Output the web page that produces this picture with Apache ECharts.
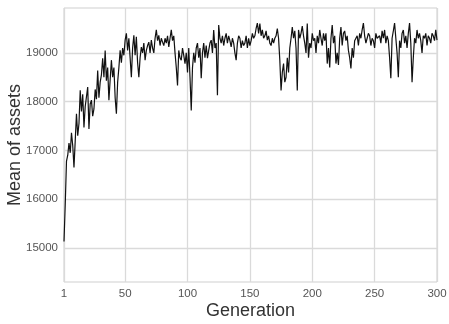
<!DOCTYPE html>
<html>
<head>
<meta charset="utf-8">
<script src="https://cdn.jsdelivr.net/npm/echarts@6/dist/echarts.min.js"></script>
<style>
html,body{margin:0;padding:0;background:#fff;}
#chart{width:449px;height:324px;}
</style>
</head>
<body>
<div id="chart"></div>
<script>
// Mean of assets per generation (1..300)
var meanAssets = [
15130, 15900, 16780, 16900, 17150, 16950, 17360, 17100, 16650, 17200,
17750, 17300, 17550, 18230, 17800, 18150, 17470, 17900, 18100, 18300,
17440, 17950, 18030, 17700, 17850, 18250, 18050, 18640, 18080, 18400,
18550, 18890, 18500, 19050, 18430, 18700, 18030, 18450, 18850, 18500,
18700, 18080, 17750, 18400, 18700, 19050, 18800, 19100, 18950, 19260,
19400, 19050, 19300, 18900, 18500, 19100, 19360, 18950, 19330, 18800,
18500, 18900, 19120, 19000, 19200, 18850, 19050, 19150, 19220, 19000,
19260, 19100, 19000, 19300, 19470, 19250, 19360, 19150, 19300, 19220,
19150, 19300, 19200, 19350, 19120, 19300, 19470, 19250, 19350, 19000,
18700, 18330, 19050, 18900, 18850, 19100, 18950, 18780, 19000, 18600,
19100, 18500, 17820, 18700, 19000, 18800, 19100, 19200, 18900, 19100,
18480, 19000, 19200, 18900, 19150, 18890, 19050, 19200, 19260, 19000,
19470, 19100, 19200, 18130, 19570, 19300, 19200, 19350, 19150, 19300,
19400, 19200, 19350, 19250, 19120, 19300, 19200, 19000, 18850, 19200,
19350, 19300, 19100, 19250, 19150, 19200, 19350, 19100, 19300, 19150,
19250, 19400, 19300, 19350, 19500, 19610, 19400, 19600, 19350, 19470,
19300, 19350, 19450, 19260, 19350, 19200, 19150, 19300, 19200, 19300,
19350, 19500, 19300, 18850, 18230, 18600, 18780, 18400, 18500, 18900,
18600, 19100, 19300, 19530, 19300, 19450, 19100, 18230, 19470, 19300,
19400, 19550, 19350, 19200, 19000, 19600, 18900, 19200, 19100, 19400,
19250, 19300, 19000, 19350, 19200, 19470, 19300, 19150, 19400, 19250,
19400, 18780, 19100, 18700, 19300, 19570, 19200, 19350, 18780, 19000,
18750, 19300, 19530, 19150, 19400, 19450, 19250, 19350, 19050, 18900,
18680, 19100, 18900, 19250, 19300, 19350, 19150, 19400, 19300, 19470,
19610, 19350, 19200, 19300, 19400, 19350, 19150, 19300, 19250, 19100,
19400, 19300, 19260, 19350, 19200, 19450, 19300, 19470, 19200, 19350,
19250, 18900, 18480, 19300, 19450, 19610, 19300, 19000, 18500, 19250,
19100, 19400, 19470, 19200, 19350, 19100, 19400, 19610, 19200, 18400,
18900, 19300, 19200, 19470, 19300, 19400, 19250, 19000, 19350, 19300,
19400, 19150, 19350, 19300, 19200, 19400, 19350, 19250, 19470, 19260
];
var firstGeneration = 1;
var xTickValues = [1, 50, 100, 150, 200, 250, 300];
var yTickValues = [15000, 16000, 17000, 18000, 19000];
var xTitle = 'Generation';
var yTitle = 'Mean of assets';

var points = meanAssets.map(function (v, i) { return [firstGeneration + i, v]; });

var chart = echarts.init(document.getElementById('chart'), null, {renderer: 'canvas'});
var font = 'Liberation Sans, Arial, sans-serif';
var plain = function (v) { return String(v); };
chart.setOption({
  animation: false,
  backgroundColor: '#ffffff',
  grid: {left: 64, right: 12, top: 8, bottom: 42, outerBoundsMode: 'none', containLabel: false,
         show: true, borderColor: '#cfcfcf', borderWidth: 1, backgroundColor: 'transparent'},
  xAxis: {
    type: 'value', min: 1, max: 300,
    name: xTitle, nameLocation: 'middle', nameGap: 20, nameMoveOverlap: false,
    nameTextStyle: {fontSize: 18, color: '#333', fontFamily: font},
    axisLine: {show: false},
    axisTick: {show: false, customValues: xTickValues},
    axisLabel: {customValues: xTickValues, formatter: plain, fontSize: 11.5, color: '#555', fontFamily: font, margin: 6},
    splitLine: {show: true, lineStyle: {color: '#dadada', width: 1.3}}
  },
  yAxis: {
    type: 'value', min: 14300, max: 19920,
    name: yTitle, nameLocation: 'middle', nameGap: 40, nameMoveOverlap: false,
    nameTextStyle: {fontSize: 18, color: '#333', fontFamily: font},
    axisLine: {show: false},
    axisTick: {show: false, customValues: yTickValues},
    axisLabel: {customValues: yTickValues, formatter: plain, fontSize: 11.5, color: '#555', fontFamily: font, margin: 6},
    splitLine: {show: true, lineStyle: {color: '#dadada', width: 1.3}}
  },
  series: [{
    type: 'line', data: points, showSymbol: false, symbol: 'none',
    lineStyle: {color: '#111', width: 1.2}
  }]
});
</script>
</body>
</html>
